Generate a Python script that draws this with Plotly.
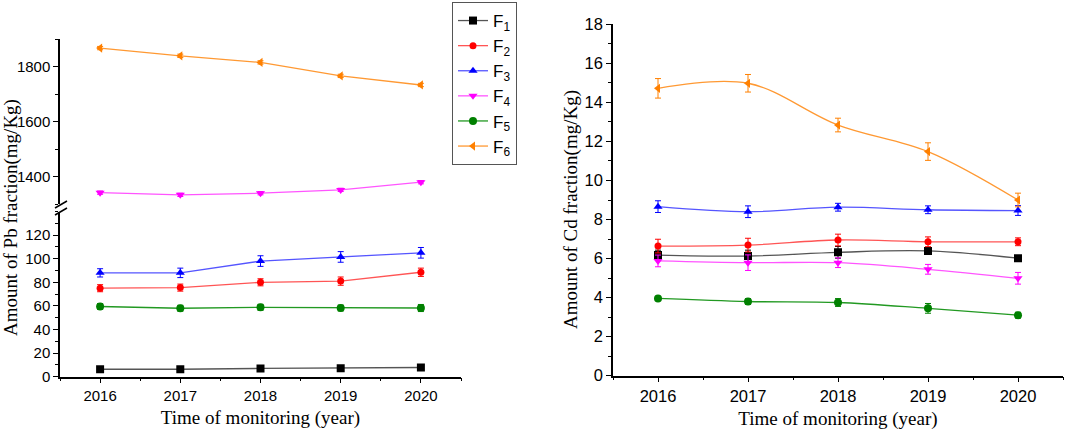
import plotly.graph_objects as go

years = [2016, 2017, 2018, 2019, 2020]
names = ["F<sub>1</sub>", "F<sub>2</sub>", "F<sub>3</sub>", "F<sub>4</sub>", "F<sub>5</sub>", "F<sub>6</sub>"]
line_colors = ["#555555", "#ff5555", "#5555ff", "#ff55ff", "#229922", "#ff9933"]
marker_colors = ["#000000", "#ff0000", "#0000ff", "#ff00ff", "#008000", "#ff8000"]
symbols = ["square", "circle", "triangle-up", "triangle-down", "circle", "triangle-left"]
marker_sizes = [8, 7, 8, 8, 8, 8]

# Pb fractions (mg/Kg)
pb_f1 = [6.3, 6.3, 7.0, 7.2, 7.8]
pb_f2 = [75.0, 75.5, 80.0, 81.0, 88.5]
pb_f3 = [88.0, 88.0, 98.0, 101.5, 105.0]
pb_f4 = [1342, 1334, 1340, 1352, 1380]
pb_f5 = [59.5, 58.0, 58.8, 58.2, 58.2]
pb_f6 = [1867, 1839, 1815, 1766, 1733]
pb_e1 = [1.0, 1.0, 1.0, 1.0, 1.0]
pb_e2 = [3.0, 3.0, 3.0, 3.5, 3.5]
pb_e3 = [3.5, 4.0, 4.5, 4.5, 4.5]
pb_e4 = [6, 6, 6, 6, 6]
pb_e5 = [2.5, 2.5, 2.5, 2.5, 3.0]
pb_e6 = [6, 6, 6, 6, 6]

# Cd fractions (mg/Kg)
cd_f1 = [6.18, 6.13, 6.32, 6.39, 6.02]
cd_f2 = [6.64, 6.69, 6.95, 6.86, 6.86]
cd_f3 = [8.66, 8.40, 8.63, 8.50, 8.46]
cd_f4 = [5.88, 5.79, 5.79, 5.45, 4.99]
cd_f5 = [3.96, 3.80, 3.75, 3.45, 3.10]
cd_f6 = [14.72, 14.98, 12.84, 11.48, 9.00]
cd_e1 = [0.25, 0.3, 0.3, 0.15, 0.1]
cd_e2 = [0.35, 0.35, 0.3, 0.25, 0.2]
cd_e3 = [0.3, 0.3, 0.2, 0.2, 0.25]
cd_e4 = [0.3, 0.4, 0.25, 0.25, 0.3]
cd_e5 = [0.1, 0.15, 0.2, 0.25, 0.15]
cd_e6 = [0.5, 0.45, 0.35, 0.45, 0.35]

pb_vals = [pb_f1, pb_f2, pb_f3, pb_f4, pb_f5, pb_f6]
pb_errs = [pb_e1, pb_e2, pb_e3, pb_e4, pb_e5, pb_e6]
pb_upper = [False, False, False, True, False, True]
cd_vals = [cd_f1, cd_f2, cd_f3, cd_f4, cd_f5, cd_f6]
cd_errs = [cd_e1, cd_e2, cd_e3, cd_e4, cd_e5, cd_e6]

W, H = 1065, 433
def fx(px):
    return px / W
def fy(py):
    return 1 - py / H

fig = go.Figure()

for i in range(6):
    up = pb_upper[i]
    fig.add_trace(go.Scatter(
        x=years, y=pb_vals[i], name=names[i], mode="lines+markers",
        xaxis="x2" if up else "x", yaxis="y2" if up else "y",
        line=dict(color=line_colors[i], width=1.3),
        marker=dict(symbol=symbols[i], size=marker_sizes[i], color=marker_colors[i]),
        error_y=dict(type="data", array=pb_errs[i], color=marker_colors[i], thickness=1, width=3),
        showlegend=False, legendrank=i,
    ))

for i in range(6):
    fig.add_trace(go.Scatter(
        x=years, y=cd_vals[i], name=names[i], mode="lines+markers",
        xaxis="x3", yaxis="y3",
        line=dict(color=line_colors[i], width=1.3, shape="spline", smoothing=1.0),
        marker=dict(symbol=symbols[i], size=marker_sizes[i], color=marker_colors[i]),
        error_y=dict(type="data", array=cd_errs[i], color=marker_colors[i], thickness=1, width=3),
        showlegend=True, legendrank=i,
    ))

tickfont_l = dict(family="Liberation Sans, Arial", size=15, color="#000")
tickfont_r = dict(family="Liberation Sans, Arial", size=16.5, color="#000")
titlefont = dict(family="Liberation Serif, Times New Roman", size=19, color="#000")
axcommon = dict(showline=True, linecolor="#000", linewidth=1.5, ticks="outside",
                ticklen=5, tickwidth=1.3, tickcolor="#000", showgrid=False,
                zeroline=False)

xr = [2015.5, 2020.5]
minor_x = dict(dtick=0.5, ticks="outside", ticklen=3, tickwidth=1.2, tickcolor="#000", showgrid=False)

fig.update_layout(
    width=W, height=H, margin=dict(l=0, r=0, t=0, b=0, autoexpand=False),
    plot_bgcolor="white", paper_bgcolor="white",
    xaxis=dict(domain=[fx(60), fx(461)], range=xr, anchor="y", tickmode="array",
               tickvals=years, minor=minor_x, tickfont=tickfont_l,
               title=dict(text="Time of monitoring (year)", font=titlefont, standoff=7),
               **axcommon),
    yaxis=dict(domain=[fy(376.7), fy(211.5)], range=[0, 140], anchor="x",
               tickvals=[0, 20, 40, 60, 80, 100, 120], tickfont=tickfont_l,
               minor=dict(dtick=10, ticks="outside", ticklen=3, tickwidth=1.2, tickcolor="#000", showgrid=False),
               **axcommon),
    xaxis2=dict(domain=[fx(60), fx(461)], range=xr, anchor="y2", visible=False),
    yaxis2=dict(domain=[fy(204.2), fy(39)], range=[1300, 1900], anchor="x2",
                tickvals=[1400, 1600, 1800], tickfont=tickfont_l,
                minor=dict(tickvals=[1300, 1500, 1700, 1900], ticks="outside", ticklen=3, tickwidth=1.2, tickcolor="#000", showgrid=False),
                **axcommon),
    xaxis3=dict(domain=[fx(613), fx(1063)], range=xr, anchor="y3", tickmode="array",
                tickvals=years, minor=minor_x, tickfont=tickfont_r,
                title=dict(text="Time of monitoring (year)", font=titlefont, standoff=7),
                **axcommon),
    yaxis3=dict(domain=[fy(375.7), fy(24.3)], range=[0, 18], anchor="x3",
                dtick=2, tickfont=tickfont_r,
                minor=dict(dtick=1, ticks="outside", ticklen=3, tickwidth=1.2, tickcolor="#000", showgrid=False),
                **axcommon),
    legend=dict(x=fx(452), y=fy(2), xanchor="left", yanchor="top",
                bgcolor="white", bordercolor="#555", borderwidth=1,
                font=dict(family="Liberation Sans, Arial", size=17, color="#000")),
    annotations=[
        dict(text="Amount of Pb fraction(mg/Kg)", x=fx(11), y=fy(218), xref="paper", yref="paper",
             textangle=-90, showarrow=False, font=titlefont, xanchor="center", yanchor="middle"),
        dict(text="Amount of Cd fraction(mg/Kg)", x=fx(571), y=fy(210), xref="paper", yref="paper",
             textangle=-90, showarrow=False, font=titlefont, xanchor="center", yanchor="middle"),
    ],
    shapes=[
        dict(type="line", xref="paper", yref="paper", x0=fx(55), y0=fy(208), x1=fx(67), y1=fy(201),
             line=dict(color="#000", width=1.5)),
        dict(type="line", xref="paper", yref="paper", x0=fx(55), y0=fy(215), x1=fx(67), y1=fy(208),
             line=dict(color="#000", width=1.5)),
    ],
)

fig.write_html("out.html", config={"displayModeBar": False},
               post_script="document.body.style.margin='0';document.body.style.padding='0';")
